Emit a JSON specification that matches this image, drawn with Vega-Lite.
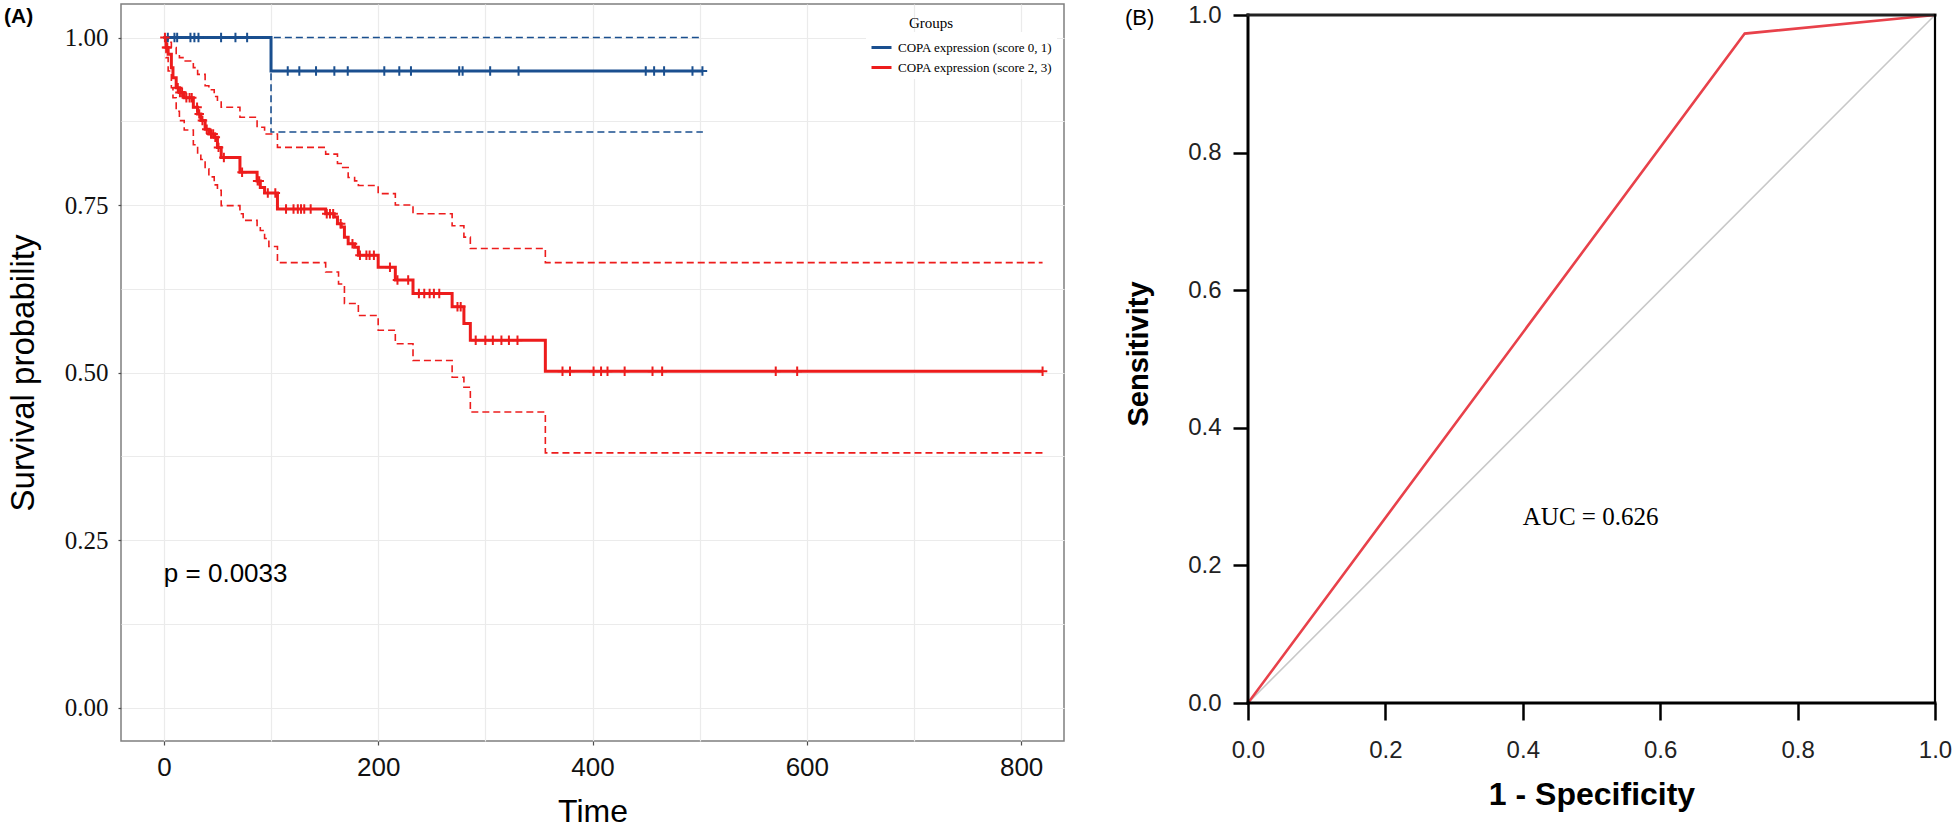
{
  "$schema": "https://vega.github.io/schema/vega-lite/v6.json",
  "background": "white",
  "padding": {"left": 3, "top": 3, "right": 0, "bottom": 0},
  "spacing": 59,
  "config": {"view": {"stroke": null}, "font": "Liberation Sans"},
  "datasets": {
    "curves": [
      {"g": "COPA expression (score 0, 1)", "series": "km", "t": 0, "s": 1},
      {"g": "COPA expression (score 0, 1)", "series": "km", "t": 100, "s": 0.95},
      {"g": "COPA expression (score 0, 1)", "series": "km", "t": 503, "s": 0.95},
      {"g": "COPA expression (score 0, 1)", "series": "upper", "t": 0, "s": 1},
      {"g": "COPA expression (score 0, 1)", "series": "upper", "t": 503, "s": 1},
      {"g": "COPA expression (score 0, 1)", "series": "lower", "t": 0, "s": 1},
      {"g": "COPA expression (score 0, 1)", "series": "lower", "t": 100, "s": 0.859},
      {"g": "COPA expression (score 0, 1)", "series": "lower", "t": 503, "s": 0.859},

      {"g": "COPA expression (score 2, 3)", "series": "km", "t": 0, "s": 1},
      {"g": "COPA expression (score 2, 3)", "series": "km", "t": 2, "s": 0.985},
      {"g": "COPA expression (score 2, 3)", "series": "km", "t": 4, "s": 0.975},
      {"g": "COPA expression (score 2, 3)", "series": "km", "t": 7, "s": 0.955},
      {"g": "COPA expression (score 2, 3)", "series": "km", "t": 8.5, "s": 0.94},
      {"g": "COPA expression (score 2, 3)", "series": "km", "t": 11.5, "s": 0.925},
      {"g": "COPA expression (score 2, 3)", "series": "km", "t": 14.5, "s": 0.918},
      {"g": "COPA expression (score 2, 3)", "series": "km", "t": 19, "s": 0.91},
      {"g": "COPA expression (score 2, 3)", "series": "km", "t": 27.5, "s": 0.896},
      {"g": "COPA expression (score 2, 3)", "series": "km", "t": 31.5, "s": 0.886},
      {"g": "COPA expression (score 2, 3)", "series": "km", "t": 34.5, "s": 0.876},
      {"g": "COPA expression (score 2, 3)", "series": "km", "t": 38.5, "s": 0.863},
      {"g": "COPA expression (score 2, 3)", "series": "km", "t": 42, "s": 0.856},
      {"g": "COPA expression (score 2, 3)", "series": "km", "t": 47, "s": 0.851},
      {"g": "COPA expression (score 2, 3)", "series": "km", "t": 50, "s": 0.836},
      {"g": "COPA expression (score 2, 3)", "series": "km", "t": 53.5, "s": 0.821},
      {"g": "COPA expression (score 2, 3)", "series": "km", "t": 71, "s": 0.799},
      {"g": "COPA expression (score 2, 3)", "series": "km", "t": 87, "s": 0.786},
      {"g": "COPA expression (score 2, 3)", "series": "km", "t": 90, "s": 0.776},
      {"g": "COPA expression (score 2, 3)", "series": "km", "t": 94, "s": 0.768},
      {"g": "COPA expression (score 2, 3)", "series": "km", "t": 106, "s": 0.744},
      {"g": "COPA expression (score 2, 3)", "series": "km", "t": 151, "s": 0.737},
      {"g": "COPA expression (score 2, 3)", "series": "km", "t": 159, "s": 0.732},
      {"g": "COPA expression (score 2, 3)", "series": "km", "t": 162, "s": 0.722},
      {"g": "COPA expression (score 2, 3)", "series": "km", "t": 165.5, "s": 0.717},
      {"g": "COPA expression (score 2, 3)", "series": "km", "t": 168.5, "s": 0.702},
      {"g": "COPA expression (score 2, 3)", "series": "km", "t": 172, "s": 0.692},
      {"g": "COPA expression (score 2, 3)", "series": "km", "t": 178, "s": 0.687},
      {"g": "COPA expression (score 2, 3)", "series": "km", "t": 181.5, "s": 0.675},
      {"g": "COPA expression (score 2, 3)", "series": "km", "t": 200, "s": 0.657},
      {"g": "COPA expression (score 2, 3)", "series": "km", "t": 216, "s": 0.638},
      {"g": "COPA expression (score 2, 3)", "series": "km", "t": 232.5, "s": 0.618},
      {"g": "COPA expression (score 2, 3)", "series": "km", "t": 269, "s": 0.598},
      {"g": "COPA expression (score 2, 3)", "series": "km", "t": 280, "s": 0.573},
      {"g": "COPA expression (score 2, 3)", "series": "km", "t": 286, "s": 0.548},
      {"g": "COPA expression (score 2, 3)", "series": "km", "t": 356, "s": 0.502},
      {"g": "COPA expression (score 2, 3)", "series": "km", "t": 820, "s": 0.502},

      {"g": "COPA expression (score 2, 3)", "series": "upper", "t": 0, "s": 1},
      {"g": "COPA expression (score 2, 3)", "series": "upper", "t": 2, "s": 0.998},
      {"g": "COPA expression (score 2, 3)", "series": "upper", "t": 4, "s": 0.993},
      {"g": "COPA expression (score 2, 3)", "series": "upper", "t": 7, "s": 0.985},
      {"g": "COPA expression (score 2, 3)", "series": "upper", "t": 11.5, "s": 0.975},
      {"g": "COPA expression (score 2, 3)", "series": "upper", "t": 14.5, "s": 0.97},
      {"g": "COPA expression (score 2, 3)", "series": "upper", "t": 19, "s": 0.965},
      {"g": "COPA expression (score 2, 3)", "series": "upper", "t": 27.5, "s": 0.955},
      {"g": "COPA expression (score 2, 3)", "series": "upper", "t": 31.5, "s": 0.945},
      {"g": "COPA expression (score 2, 3)", "series": "upper", "t": 38.5, "s": 0.928},
      {"g": "COPA expression (score 2, 3)", "series": "upper", "t": 42, "s": 0.922},
      {"g": "COPA expression (score 2, 3)", "series": "upper", "t": 47, "s": 0.912},
      {"g": "COPA expression (score 2, 3)", "series": "upper", "t": 50, "s": 0.905},
      {"g": "COPA expression (score 2, 3)", "series": "upper", "t": 53.5, "s": 0.896},
      {"g": "COPA expression (score 2, 3)", "series": "upper", "t": 71, "s": 0.881},
      {"g": "COPA expression (score 2, 3)", "series": "upper", "t": 87, "s": 0.866},
      {"g": "COPA expression (score 2, 3)", "series": "upper", "t": 94, "s": 0.856},
      {"g": "COPA expression (score 2, 3)", "series": "upper", "t": 106, "s": 0.836},
      {"g": "COPA expression (score 2, 3)", "series": "upper", "t": 151, "s": 0.826},
      {"g": "COPA expression (score 2, 3)", "series": "upper", "t": 162, "s": 0.812},
      {"g": "COPA expression (score 2, 3)", "series": "upper", "t": 165.5, "s": 0.806},
      {"g": "COPA expression (score 2, 3)", "series": "upper", "t": 172, "s": 0.791},
      {"g": "COPA expression (score 2, 3)", "series": "upper", "t": 178, "s": 0.786},
      {"g": "COPA expression (score 2, 3)", "series": "upper", "t": 181.5, "s": 0.779},
      {"g": "COPA expression (score 2, 3)", "series": "upper", "t": 200, "s": 0.767},
      {"g": "COPA expression (score 2, 3)", "series": "upper", "t": 216, "s": 0.75},
      {"g": "COPA expression (score 2, 3)", "series": "upper", "t": 232.5, "s": 0.737},
      {"g": "COPA expression (score 2, 3)", "series": "upper", "t": 269, "s": 0.719},
      {"g": "COPA expression (score 2, 3)", "series": "upper", "t": 280, "s": 0.702},
      {"g": "COPA expression (score 2, 3)", "series": "upper", "t": 286, "s": 0.685},
      {"g": "COPA expression (score 2, 3)", "series": "upper", "t": 356, "s": 0.664},
      {"g": "COPA expression (score 2, 3)", "series": "upper", "t": 820, "s": 0.664},

      {"g": "COPA expression (score 2, 3)", "series": "lower", "t": 0, "s": 1},
      {"g": "COPA expression (score 2, 3)", "series": "lower", "t": 2, "s": 0.97},
      {"g": "COPA expression (score 2, 3)", "series": "lower", "t": 4, "s": 0.95},
      {"g": "COPA expression (score 2, 3)", "series": "lower", "t": 7, "s": 0.925},
      {"g": "COPA expression (score 2, 3)", "series": "lower", "t": 8.5, "s": 0.91},
      {"g": "COPA expression (score 2, 3)", "series": "lower", "t": 11.5, "s": 0.89},
      {"g": "COPA expression (score 2, 3)", "series": "lower", "t": 14.5, "s": 0.876},
      {"g": "COPA expression (score 2, 3)", "series": "lower", "t": 19, "s": 0.862},
      {"g": "COPA expression (score 2, 3)", "series": "lower", "t": 27.5, "s": 0.84},
      {"g": "COPA expression (score 2, 3)", "series": "lower", "t": 31.5, "s": 0.826},
      {"g": "COPA expression (score 2, 3)", "series": "lower", "t": 34.5, "s": 0.818},
      {"g": "COPA expression (score 2, 3)", "series": "lower", "t": 38.5, "s": 0.804},
      {"g": "COPA expression (score 2, 3)", "series": "lower", "t": 42, "s": 0.792},
      {"g": "COPA expression (score 2, 3)", "series": "lower", "t": 47, "s": 0.78},
      {"g": "COPA expression (score 2, 3)", "series": "lower", "t": 50, "s": 0.772},
      {"g": "COPA expression (score 2, 3)", "series": "lower", "t": 53.5, "s": 0.749},
      {"g": "COPA expression (score 2, 3)", "series": "lower", "t": 71, "s": 0.737},
      {"g": "COPA expression (score 2, 3)", "series": "lower", "t": 74, "s": 0.727},
      {"g": "COPA expression (score 2, 3)", "series": "lower", "t": 87, "s": 0.718},
      {"g": "COPA expression (score 2, 3)", "series": "lower", "t": 90, "s": 0.712},
      {"g": "COPA expression (score 2, 3)", "series": "lower", "t": 94, "s": 0.7},
      {"g": "COPA expression (score 2, 3)", "series": "lower", "t": 98, "s": 0.688},
      {"g": "COPA expression (score 2, 3)", "series": "lower", "t": 106, "s": 0.664},
      {"g": "COPA expression (score 2, 3)", "series": "lower", "t": 151, "s": 0.65},
      {"g": "COPA expression (score 2, 3)", "series": "lower", "t": 163, "s": 0.632},
      {"g": "COPA expression (score 2, 3)", "series": "lower", "t": 168.5, "s": 0.603},
      {"g": "COPA expression (score 2, 3)", "series": "lower", "t": 181.5, "s": 0.585},
      {"g": "COPA expression (score 2, 3)", "series": "lower", "t": 200, "s": 0.563},
      {"g": "COPA expression (score 2, 3)", "series": "lower", "t": 216, "s": 0.543},
      {"g": "COPA expression (score 2, 3)", "series": "lower", "t": 232.5, "s": 0.518},
      {"g": "COPA expression (score 2, 3)", "series": "lower", "t": 269, "s": 0.493},
      {"g": "COPA expression (score 2, 3)", "series": "lower", "t": 280, "s": 0.478},
      {"g": "COPA expression (score 2, 3)", "series": "lower", "t": 286, "s": 0.441},
      {"g": "COPA expression (score 2, 3)", "series": "lower", "t": 356, "s": 0.38},
      {"g": "COPA expression (score 2, 3)", "series": "lower", "t": 820, "s": 0.38}
    ],
    "censor": [
      {"g": "COPA expression (score 0, 1)", "t": 3.7, "s": 1},
      {"g": "COPA expression (score 0, 1)", "t": 9.9, "s": 1},
      {"g": "COPA expression (score 0, 1)", "t": 12.4, "s": 1},
      {"g": "COPA expression (score 0, 1)", "t": 24.8, "s": 1},
      {"g": "COPA expression (score 0, 1)", "t": 28.5, "s": 1},
      {"g": "COPA expression (score 0, 1)", "t": 32.3, "s": 1},
      {"g": "COPA expression (score 0, 1)", "t": 53.4, "s": 1},
      {"g": "COPA expression (score 0, 1)", "t": 66.8, "s": 1},
      {"g": "COPA expression (score 0, 1)", "t": 77.7, "s": 1},
      {"g": "COPA expression (score 0, 1)", "t": 115.6, "s": 0.95},
      {"g": "COPA expression (score 0, 1)", "t": 126.4, "s": 0.95},
      {"g": "COPA expression (score 0, 1)", "t": 142, "s": 0.95},
      {"g": "COPA expression (score 0, 1)", "t": 159.1, "s": 0.95},
      {"g": "COPA expression (score 0, 1)", "t": 171.6, "s": 0.95},
      {"g": "COPA expression (score 0, 1)", "t": 205.7, "s": 0.95},
      {"g": "COPA expression (score 0, 1)", "t": 219.7, "s": 0.95},
      {"g": "COPA expression (score 0, 1)", "t": 230.6, "s": 0.95},
      {"g": "COPA expression (score 0, 1)", "t": 275.6, "s": 0.95},
      {"g": "COPA expression (score 0, 1)", "t": 278.8, "s": 0.95},
      {"g": "COPA expression (score 0, 1)", "t": 304.5, "s": 0.95},
      {"g": "COPA expression (score 0, 1)", "t": 331, "s": 0.95},
      {"g": "COPA expression (score 0, 1)", "t": 449.7, "s": 0.95},
      {"g": "COPA expression (score 0, 1)", "t": 457.5, "s": 0.95},
      {"g": "COPA expression (score 0, 1)", "t": 466.8, "s": 0.95},
      {"g": "COPA expression (score 0, 1)", "t": 493.3, "s": 0.95},
      {"g": "COPA expression (score 0, 1)", "t": 502.6, "s": 0.95},
      {"g": "COPA expression (score 2, 3)", "t": 1, "s": 1},
      {"g": "COPA expression (score 2, 3)", "t": 2.5, "s": 0.985},
      {"g": "COPA expression (score 2, 3)", "t": 3.2, "s": 0.985},
      {"g": "COPA expression (score 2, 3)", "t": 13, "s": 0.925},
      {"g": "COPA expression (score 2, 3)", "t": 15, "s": 0.918},
      {"g": "COPA expression (score 2, 3)", "t": 17, "s": 0.918},
      {"g": "COPA expression (score 2, 3)", "t": 21, "s": 0.91},
      {"g": "COPA expression (score 2, 3)", "t": 24, "s": 0.91},
      {"g": "COPA expression (score 2, 3)", "t": 26, "s": 0.91},
      {"g": "COPA expression (score 2, 3)", "t": 31, "s": 0.896},
      {"g": "COPA expression (score 2, 3)", "t": 33, "s": 0.886},
      {"g": "COPA expression (score 2, 3)", "t": 36, "s": 0.876},
      {"g": "COPA expression (score 2, 3)", "t": 40, "s": 0.863},
      {"g": "COPA expression (score 2, 3)", "t": 44, "s": 0.856},
      {"g": "COPA expression (score 2, 3)", "t": 46, "s": 0.856},
      {"g": "COPA expression (score 2, 3)", "t": 48, "s": 0.851},
      {"g": "COPA expression (score 2, 3)", "t": 51, "s": 0.836},
      {"g": "COPA expression (score 2, 3)", "t": 56, "s": 0.821},
      {"g": "COPA expression (score 2, 3)", "t": 73, "s": 0.799},
      {"g": "COPA expression (score 2, 3)", "t": 87.5, "s": 0.786},
      {"g": "COPA expression (score 2, 3)", "t": 89, "s": 0.786},
      {"g": "COPA expression (score 2, 3)", "t": 97, "s": 0.768},
      {"g": "COPA expression (score 2, 3)", "t": 104, "s": 0.768},
      {"g": "COPA expression (score 2, 3)", "t": 114, "s": 0.744},
      {"g": "COPA expression (score 2, 3)", "t": 121, "s": 0.744},
      {"g": "COPA expression (score 2, 3)", "t": 125, "s": 0.744},
      {"g": "COPA expression (score 2, 3)", "t": 128, "s": 0.744},
      {"g": "COPA expression (score 2, 3)", "t": 131, "s": 0.744},
      {"g": "COPA expression (score 2, 3)", "t": 137, "s": 0.744},
      {"g": "COPA expression (score 2, 3)", "t": 152, "s": 0.737},
      {"g": "COPA expression (score 2, 3)", "t": 155, "s": 0.737},
      {"g": "COPA expression (score 2, 3)", "t": 158, "s": 0.737},
      {"g": "COPA expression (score 2, 3)", "t": 165, "s": 0.722},
      {"g": "COPA expression (score 2, 3)", "t": 176, "s": 0.692},
      {"g": "COPA expression (score 2, 3)", "t": 183, "s": 0.675},
      {"g": "COPA expression (score 2, 3)", "t": 189, "s": 0.675},
      {"g": "COPA expression (score 2, 3)", "t": 192, "s": 0.675},
      {"g": "COPA expression (score 2, 3)", "t": 196, "s": 0.675},
      {"g": "COPA expression (score 2, 3)", "t": 211, "s": 0.657},
      {"g": "COPA expression (score 2, 3)", "t": 218, "s": 0.638},
      {"g": "COPA expression (score 2, 3)", "t": 228, "s": 0.638},
      {"g": "COPA expression (score 2, 3)", "t": 238, "s": 0.618},
      {"g": "COPA expression (score 2, 3)", "t": 243, "s": 0.618},
      {"g": "COPA expression (score 2, 3)", "t": 248, "s": 0.618},
      {"g": "COPA expression (score 2, 3)", "t": 252, "s": 0.618},
      {"g": "COPA expression (score 2, 3)", "t": 257, "s": 0.618},
      {"g": "COPA expression (score 2, 3)", "t": 274, "s": 0.598},
      {"g": "COPA expression (score 2, 3)", "t": 277, "s": 0.598},
      {"g": "COPA expression (score 2, 3)", "t": 291, "s": 0.548},
      {"g": "COPA expression (score 2, 3)", "t": 300, "s": 0.548},
      {"g": "COPA expression (score 2, 3)", "t": 307, "s": 0.548},
      {"g": "COPA expression (score 2, 3)", "t": 315, "s": 0.548},
      {"g": "COPA expression (score 2, 3)", "t": 322, "s": 0.548},
      {"g": "COPA expression (score 2, 3)", "t": 330, "s": 0.548},
      {"g": "COPA expression (score 2, 3)", "t": 372, "s": 0.502},
      {"g": "COPA expression (score 2, 3)", "t": 379, "s": 0.502},
      {"g": "COPA expression (score 2, 3)", "t": 401, "s": 0.502},
      {"g": "COPA expression (score 2, 3)", "t": 408, "s": 0.502},
      {"g": "COPA expression (score 2, 3)", "t": 414, "s": 0.502},
      {"g": "COPA expression (score 2, 3)", "t": 430, "s": 0.502},
      {"g": "COPA expression (score 2, 3)", "t": 456, "s": 0.502},
      {"g": "COPA expression (score 2, 3)", "t": 465, "s": 0.502},
      {"g": "COPA expression (score 2, 3)", "t": 571, "s": 0.502},
      {"g": "COPA expression (score 2, 3)", "t": 591, "s": 0.502},
      {"g": "COPA expression (score 2, 3)", "t": 820, "s": 0.502}
    ],
    "roc": [
      {"series": "ref", "fpr": 0, "tpr": 0},
      {"series": "ref", "fpr": 1, "tpr": 1},
      {"series": "roc", "fpr": 0, "tpr": 0},
      {"series": "roc", "fpr": 0.723, "tpr": 0.973},
      {"series": "roc", "fpr": 1, "tpr": 1}
    ]
  },
  "hconcat": [
    {
      "width": 943,
      "height": 737,
      "view": {"stroke": "#7f7f7f", "strokeWidth": 1.5},
      "resolve": {"legend": {"color": "independent"}},
      "layer": [
        {
          "data": {"name": "curves"},
          "transform": [{"filter": "datum.series == 'km'"}],
          "mark": {"type": "line", "interpolate": "step-after", "strokeWidth": 3},
          "encoding": {
            "x": {
              "field": "t", "type": "quantitative",
              "scale": {"domain": [-40, 840], "nice": false, "zero": false},
              "axis": {
                "values": [0, 100, 200, 300, 400, 500, 600, 700, 800],
                "labelExpr": "datum.value % 200 == 0 ? datum.label : ''",
                "grid": true, "gridColor": "#ebebeb", "gridWidth": 1.2,
                "domain": false,
                "tickColor": {"condition": {"test": "datum.value % 200 == 0", "value": "#4d4d4d"}, "value": "rgba(0,0,0,0)"},
                "tickSize": 4, "tickWidth": 1.2,
                "labelFont": "Liberation Sans", "labelFontSize": 26, "labelColor": "#111111", "labelPadding": 9,
                "labelOverlap": false, "labelFlush": false,
                "title": "Time", "titleFont": "Liberation Sans", "titleFontSize": 32, "titleFontWeight": "normal", "titleColor": "#000000", "titlePadding": 16
              }
            },
            "y": {
              "field": "s", "type": "quantitative",
              "scale": {"domain": [-0.05, 1.05], "nice": false, "zero": false},
              "axis": {
                "values": [0, 0.125, 0.25, 0.375, 0.5, 0.625, 0.75, 0.875, 1],
                "labelExpr": "datum.value * 4 % 1 == 0 ? format(datum.value, '.2f') : ''",
                "grid": true, "gridColor": "#ebebeb", "gridWidth": 1.2,
                "domain": false,
                "tickColor": {"condition": {"test": "datum.value * 4 % 1 == 0", "value": "#4d4d4d"}, "value": "rgba(0,0,0,0)"},
                "tickSize": 3, "tickWidth": 1.2,
                "labelFont": "Liberation Serif", "labelFontSize": 25, "labelColor": "#111111", "labelPadding": 10,
                "labelOverlap": false, "labelFlush": false,
                "title": "Survival probability", "titleFont": "Liberation Sans", "titleFontSize": 33, "titleFontWeight": "normal", "titleColor": "#000000", "titlePadding": 24
              }
            },
            "color": {
              "field": "g", "type": "nominal",
              "scale": {"domain": ["COPA expression (score 0, 1)", "COPA expression (score 2, 3)"], "range": ["#1a4f8f", "#ed1c1c"]},
              "legend": {
                "title": null, "orient": "none", "legendX": 745, "legendY": 28,
                "padding": 4, "fillColor": "white",
                "symbolType": "stroke", "symbolSize": 400, "symbolStrokeWidth": 3,
                "labelFont": "Liberation Serif", "labelFontSize": 13, "labelColor": "#000000",
                "labelOffset": 5, "rowPadding": 1, "labelLimit": 400
              }
            }
          }
        },
        {
          "data": {"name": "curves"},
          "transform": [{"filter": "datum.series != 'km'"}],
          "mark": {"type": "line", "interpolate": "step-after", "strokeDash": [7, 4], "strokeWidth": 1.6},
          "encoding": {
            "x": {"field": "t", "type": "quantitative"},
            "y": {"field": "s", "type": "quantitative"},
            "color": {"field": "g", "type": "nominal", "legend": null},
            "detail": {"field": "series"}
          }
        },
        {
          "data": {"name": "censor"},
          "mark": {"type": "point", "shape": "M-1,0H1M0,-1V1", "filled": false, "size": 90, "strokeWidth": 2, "opacity": 1},
          "encoding": {
            "x": {"field": "t", "type": "quantitative"},
            "y": {"field": "s", "type": "quantitative"},
            "color": {"field": "g", "type": "nominal", "legend": null}
          }
        },
        {
          "data": {"values": [{}]},
          "mark": {"type": "text", "text": "p = 0.0033", "align": "left", "baseline": "middle", "font": "Liberation Sans", "fontSize": 26, "color": "#000000"},
          "encoding": {"x": {"datum": 0}, "y": {"datum": 0.2}}
        },
        {
          "data": {"values": [{}]},
          "mark": {"type": "text", "text": "(A)", "align": "left", "baseline": "middle", "font": "Liberation Sans", "fontSize": 21, "fontWeight": "bold", "color": "#000000"},
          "encoding": {"x": {"datum": -149.2}, "y": {"datum": 1.031}}
        },
        {
          "data": {"values": [{}]},
          "mark": {"type": "text", "text": "Groups", "align": "center", "baseline": "middle", "font": "Liberation Serif", "fontSize": 15, "color": "#000000"},
          "encoding": {"x": {"datum": 715.9}, "y": {"datum": 1.021}}
        }
      ]
    },
    {
      "width": 687,
      "height": 699,
      "view": {"stroke": null},
      "layer": [
        {
          "data": {"name": "roc"},
          "transform": [{"filter": "datum.series == 'ref'"}],
          "mark": {"type": "line", "color": "#c8c8c8", "strokeWidth": 1.6},
          "encoding": {
            "x": {
              "field": "fpr", "type": "quantitative",
              "scale": {"domain": [0, 1], "nice": false, "zero": false},
              "axis": {
                "values": [0, 0.2, 0.4, 0.6, 0.8, 1], "format": ".1f",
                "domain": false, "grid": false,
                "tickColor": "#000000", "tickWidth": 2.5, "tickSize": 17,
                "labelFont": "Liberation Sans", "labelFontSize": 24, "labelColor": "#222222", "labelPadding": 18,
                "labelFlush": false, "labelOverlap": false,
                "title": "1 - Specificity", "titleFont": "Liberation Sans", "titleFontSize": 32, "titleFontWeight": "bold", "titleColor": "#000000", "titlePadding": 17
              }
            },
            "y": {
              "field": "tpr", "type": "quantitative",
              "scale": {"domain": [0, 1.016], "nice": false, "zero": false},
              "axis": {
                "values": [0, 0.2, 0.4, 0.6, 0.8, 1], "format": ".1f",
                "domain": false, "grid": false,
                "tickColor": "#000000", "tickWidth": 2.5, "tickSize": 15,
                "labelFont": "Liberation Sans", "labelFontSize": 24, "labelColor": "#222222", "labelPadding": 12,
                "labelFlush": false, "labelOverlap": false,
                "title": "Sensitivity", "titleFont": "Liberation Sans", "titleFontSize": 29, "titleFontWeight": "bold", "titleColor": "#000000", "titlePadding": 34
              }
            }
          }
        },
        {
          "data": {"name": "roc"},
          "transform": [{"filter": "datum.series == 'roc'"}],
          "mark": {"type": "line", "color": "#e8414a", "strokeWidth": 2.6},
          "encoding": {
            "x": {"field": "fpr", "type": "quantitative"},
            "y": {"field": "tpr", "type": "quantitative"}
          }
        },
        {
          "data": {"values": [{}]},
          "mark": {"type": "rule", "color": "#000000", "strokeWidth": 3, "strokeCap": "square"},
          "encoding": {"x": {"datum": 0}, "y": {"datum": 0}, "y2": {"datum": 1}}
        },
        {
          "data": {"values": [{}]},
          "mark": {"type": "rule", "color": "#000000", "strokeWidth": 3, "strokeCap": "square"},
          "encoding": {"y": {"datum": 0}, "x": {"datum": 0}, "x2": {"datum": 1}}
        },
        {
          "data": {"values": [{}]},
          "mark": {"type": "rule", "color": "#222222", "strokeWidth": 3, "strokeCap": "square"},
          "encoding": {"y": {"datum": 1}, "x": {"datum": 0}, "x2": {"datum": 1}}
        },
        {
          "data": {"values": [{}]},
          "mark": {"type": "rule", "color": "#000000", "strokeWidth": 2.2, "strokeCap": "square"},
          "encoding": {"x": {"datum": 1}, "y": {"datum": 0}, "y2": {"datum": 1}}
        },
        {
          "data": {"values": [{}]},
          "mark": {"type": "text", "text": "AUC = 0.626", "align": "left", "baseline": "middle", "font": "Liberation Serif", "fontSize": 25, "color": "#000000"},
          "encoding": {"x": {"datum": 0.4}, "y": {"datum": 0.271}}
        },
        {
          "data": {"values": [{}]},
          "mark": {"type": "text", "text": "(B)", "align": "left", "baseline": "middle", "font": "Liberation Sans", "fontSize": 22, "color": "#000000"},
          "encoding": {"x": {"datum": -0.179}, "y": {"datum": 0.995}}
        }
      ]
    }
  ]
}
